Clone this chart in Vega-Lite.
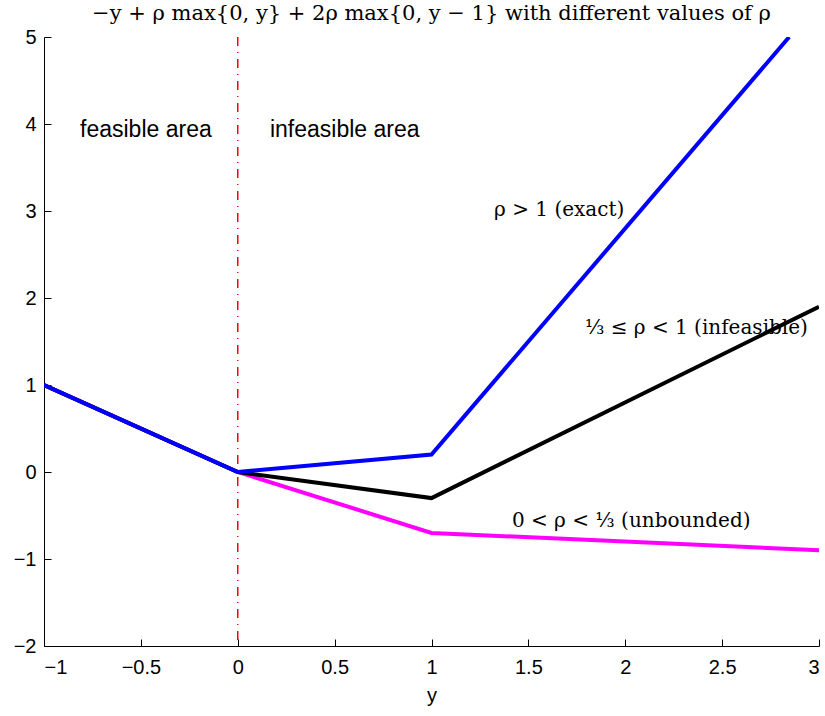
{
  "$schema": "https://vega.github.io/schema/vega-lite/v6.json",
  "width": 775,
  "height": 609,
  "autosize": {"type": "none"},
  "padding": {"left": 44, "top": 37, "right": 6, "bottom": 70},
  "background": "white",
  "title": {
    "text": "−y + ρ max{0, y} + 2ρ max{0, y − 1} with different values of ρ",
    "font": "DejaVu Serif",
    "fontSize": 21,
    "fontWeight": "normal",
    "color": "black",
    "anchor": "middle",
    "offset": 3
  },
  "config": {
    "view": {"stroke": null},
    "axis": {
      "domainColor": "black",
      "tickColor": "black",
      "grid": false,
      "labelFont": "Liberation Sans",
      "labelFontSize": 20,
      "labelColor": "black",
      "titleFont": "Liberation Sans",
      "titleFontSize": 20,
      "titleFontWeight": "normal",
      "titleColor": "black",
      "tickSize": -7,
      "labelPadding": 16
    }
  },
  "datasets": {
    "lines": [
      {"series": "m", "y": -1, "f": 1},
      {"series": "m", "y": 0, "f": 0},
      {"series": "m", "y": 1, "f": -0.7},
      {"series": "m", "y": 3, "f": -0.9},
      {"series": "k", "y": -1, "f": 1},
      {"series": "k", "y": 0, "f": 0},
      {"series": "k", "y": 1, "f": -0.3},
      {"series": "k", "y": 3, "f": 1.9},
      {"series": "b", "y": -1, "f": 1},
      {"series": "b", "y": 0, "f": 0},
      {"series": "b", "y": 1, "f": 0.2},
      {"series": "b", "y": 2.846, "f": 5}
    ],
    "labels": [
      {"x": -0.814, "y": 3.93, "label": "feasible area", "kind": "sans"},
      {"x": 0.166, "y": 3.93, "label": "infeasible area", "kind": "sans"},
      {"x": 1.323, "y": 3.01, "label": "ρ > 1 (exact)", "kind": "serif"},
      {"x": 1.792, "y": 1.655, "label": "⅓ ≤ ρ < 1 (infeasible)", "kind": "serif"},
      {"x": 1.415, "y": -0.563, "label": "0 < ρ < ⅓ (unbounded)", "kind": "serif"}
    ],
    "vline": [{"x": 0}]
  },
  "layer": [
    {
      "data": {"name": "vline"},
      "mark": {"type": "rule", "color": "#ff0000", "strokeWidth": 1.5, "strokeDash": [9, 6, 1, 6]},
      "encoding": {
        "x": {"field": "x", "type": "quantitative", "scale": {"domain": [-1, 3]}}
      }
    },
    {
      "data": {"name": "lines"},
      "transform": [{"filter": "datum.series == 'm'"}],
      "mark": {"type": "line", "color": "#ff00ff", "strokeWidth": 4, "clip": true},
      "encoding": {
        "x": {"field": "y", "type": "quantitative", "title": "y",
              "scale": {"domain": [-1, 3], "nice": false},
              "axis": {"values": [-1, -0.5, 0, 0.5, 1, 1.5, 2, 2.5, 3], "format": "~g", "labelPadding": 18, "titlePadding": 8}},
        "y": {"field": "f", "type": "quantitative", "title": null,
              "scale": {"domain": [-2, 5], "nice": false},
              "axis": {"values": [-2, -1, 0, 1, 2, 3, 4, 5], "format": "~g", "labelPadding": 15}}
      }
    },
    {
      "data": {"name": "lines"},
      "transform": [{"filter": "datum.series == 'k'"}],
      "mark": {"type": "line", "color": "black", "strokeWidth": 4, "clip": true},
      "encoding": {
        "x": {"field": "y", "type": "quantitative"},
        "y": {"field": "f", "type": "quantitative"}
      }
    },
    {
      "data": {"name": "lines"},
      "transform": [{"filter": "datum.series == 'b'"}],
      "mark": {"type": "line", "color": "#0000ff", "strokeWidth": 4, "clip": true},
      "encoding": {
        "x": {"field": "y", "type": "quantitative"},
        "y": {"field": "f", "type": "quantitative"}
      }
    },
    {
      "data": {"name": "labels"},
      "transform": [{"filter": "datum.kind == 'sans'"}],
      "mark": {"type": "text", "font": "Liberation Sans", "fontSize": 23, "align": "left", "baseline": "middle", "color": "black"},
      "encoding": {
        "x": {"field": "x", "type": "quantitative"},
        "y": {"field": "y", "type": "quantitative"},
        "text": {"field": "label"}
      }
    },
    {
      "data": {"name": "labels"},
      "transform": [{"filter": "datum.kind == 'serif'"}],
      "mark": {"type": "text", "font": "DejaVu Serif", "fontSize": 20, "align": "left", "baseline": "middle", "color": "black"},
      "encoding": {
        "x": {"field": "x", "type": "quantitative"},
        "y": {"field": "y", "type": "quantitative"},
        "text": {"field": "label"}
      }
    }
  ]
}
